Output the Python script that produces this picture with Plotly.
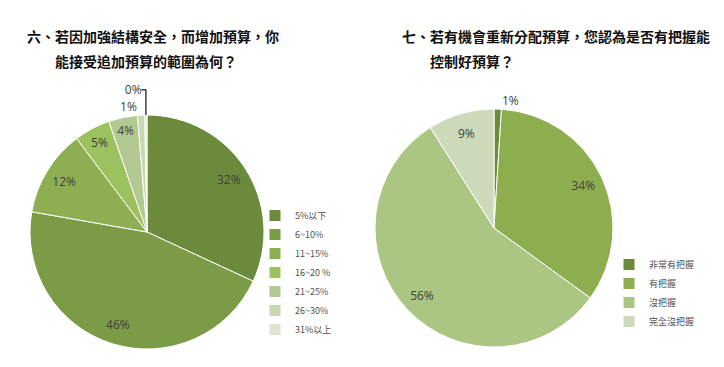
import plotly.graph_objects as go

# Left pie: 若因加強結構安全，而增加預算，你能接受追加預算的範圍為何？
q6_labels = ["5%以下", "6~10%", "11~15%", "16~20 %", "21~25%", "26~30%", "31%以上"]
q6_values = [32, 46, 12, 5, 4, 1, 0.3]
q6_colors = ["#6B8A3C", "#7C9B47", "#8DAF52", "#9CC15F", "#B2CA92", "#C8D8B2", "#DCE5D0"]
q6_textpos = ["inside", "inside", "inside", "inside", "inside", "outside", "outside"]

# Right pie: 若有機會重新分配預算，您認為是否有把握能控制好預算？
q7_labels = ["非常有把握", "有把握", "沒把握", "完全沒把握"]
q7_values = [1, 34, 56, 9]
q7_colors = ["#6B8A3C", "#8DAE4E", "#ABC682", "#CCDAB9"]
q7_textpos = ["outside", "inside", "inside", "inside"]

W, H = 724, 367

def dom(cx, cy, r):
    return dict(x=[(cx - r) / W, (cx + r) / W], y=[(H - cy - r) / H, (H - cy + r) / H])

txt_font = dict(size=12, color="#404040", family="Open Sans")
fig = go.Figure()

def add_pie(labels, values, colors, textpos, d, leg):
    # coloured slices
    fig.add_trace(go.Pie(
        labels=labels, values=values, sort=False, direction="clockwise", rotation=0,
        marker=dict(colors=colors, line=dict(color="white", width=1)),
        textinfo="none", domain=d, legend=leg, hoverinfo="label+percent",
    ))
    # percentage labels, placed in the outer ring
    fig.add_trace(go.Pie(
        labels=labels, values=values, sort=False, direction="clockwise", rotation=0,
        hole=0.66, showlegend=False,
        marker=dict(colors=["rgba(0,0,0,0)"] * len(values), line=dict(width=0)),
        texttemplate="%{percent:.0%}", textposition=textpos,
        insidetextorientation="horizontal", textfont=txt_font,
        domain=d, hoverinfo="skip",
    ))

add_pie(q6_labels, q6_values, q6_colors, q6_textpos, dom(139, 224, 117), "legend")
add_pie(q7_labels, q7_values, q7_colors, q7_textpos, dom(486, 220, 119), "legend2")

title_font = dict(family="Noto Sans CJK TC", size=14, color="#111111")
annos = [
    ("<b>六、若因加強結構安全，而增加預算，你</b>", 17, 28),
    ("<b>能接受追加預算的範圍為何？</b>", 45, 53),
    ("<b>七、若有機會重新分配預算，您認為是否有把握能</b>", 392, 28),
    ("<b>控制好預算？</b>", 420, 53),
]
for t, x, y in annos:
    fig.add_annotation(text=t, x=x / W, y=(H - y) / H, xref="paper", yref="paper",
                       xanchor="left", yanchor="middle", showarrow=False, font=title_font)

leg_font = dict(family="Noto Sans CJK TC", size=9, color="#505050")
fig.update_layout(
    width=W, height=H, margin=dict(l=0, r=0, t=0, b=0),
    paper_bgcolor="white", plot_bgcolor="white",
    uniformtext=dict(minsize=12, mode="show"),
    legend=dict(x=247 / W, y=(H - 193) / H, xanchor="left", yanchor="top",
                font=leg_font, bgcolor="rgba(0,0,0,0)", itemwidth=30),
    legend2=dict(x=601 / W, y=(H - 242) / H, xanchor="left", yanchor="top",
                 font=leg_font, bgcolor="rgba(0,0,0,0)", itemwidth=30),
)
fig.write_html("out.html")
